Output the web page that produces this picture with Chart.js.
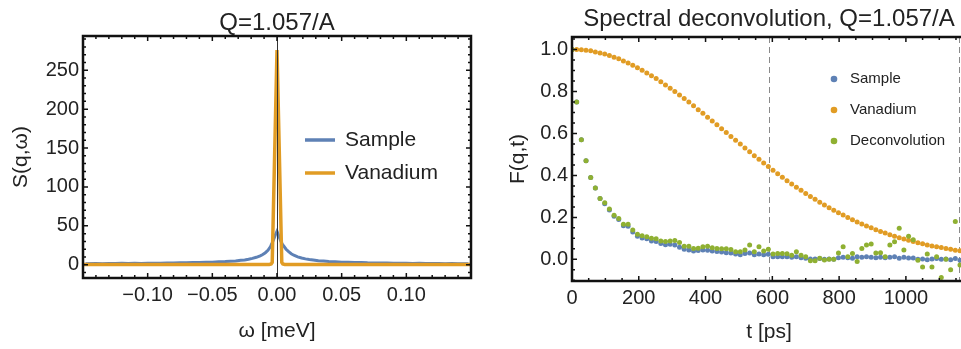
<!DOCTYPE html>
<html>
<head>
<meta charset="utf-8">
<script src="https://cdn.jsdelivr.net/npm/chart.js@4.4.1/dist/chart.umd.min.js"></script>
<style>
    html, body { margin: 0; padding: 0; background: #fff; overflow: hidden; width: 961px; height: 349px; }
    #left { position: absolute; left: 0; top: 0; width: 480px; height: 349px; }
    #right { position: absolute; left: 480px; top: 0; width: 520px; height: 349px; }
</style>
</head>
<body>
<div id="left"><canvas id="spectrum" width="480" height="349"></canvas></div>
<div id="right"><canvas id="fqt" width="520" height="349"></canvas></div>
<script>
// ---- left panel: S(q,w) ----
const omegaSample = [-0.148, -0.14, -0.135, -0.13, -0.125, -0.12, -0.115, -0.11, -0.105, -0.10,
    -0.095, -0.09, -0.085, -0.08, -0.075, -0.07, -0.065, -0.06, -0.055, -0.05,
    -0.045, -0.04, -0.036, -0.032, -0.028, -0.025, -0.022, -0.019, -0.016, -0.013,
    -0.011, -0.009, -0.007, -0.005, -0.004, -0.003, -0.002, -0.001, 0,
    0.001, 0.002, 0.003, 0.004, 0.005, 0.007, 0.009, 0.011, 0.013, 0.016,
    0.019, 0.022, 0.025, 0.028, 0.032, 0.036, 0.04, 0.045, 0.05, 0.055,
    0.06, 0.065, 0.07, 0.075, 0.08, 0.085, 0.09, 0.095, 0.10, 0.105,
    0.11, 0.115, 0.12, 0.125, 0.13, 0.135, 0.14, 0.148];
const sampleS = [1.4, 1.6, 1.3, 1.7, 1.5, 1.8, 1.6, 1.9, 1.7, 2.0,
    2.1, 1.9, 2.3, 2.2, 2.6, 2.5, 2.9, 2.8, 3.3, 3.2,
    3.8, 4.1, 4.6, 5.0, 5.8, 6.2, 7.0, 8.2, 9.6, 11.5,
    13.2, 15.5, 18.6, 23.5, 27, 31, 35, 39.5, 43,
    39, 34.5, 30, 27, 24.5, 20, 16.8, 14.2, 12.3, 10.2,
    8.8, 7.6, 6.7, 6.0, 5.2, 4.7, 4.2, 3.8, 3.4, 3.2,
    2.9, 2.8, 2.5, 2.4, 2.2, 2.2, 2.0, 1.9, 1.9, 1.7,
    1.8, 1.6, 1.5, 1.6, 1.4, 1.5, 1.3, 1.4];
const omegaVan = [-0.15, -0.006, -0.0045, -0.0037, 0, 0.0037, 0.0045, 0.006, 0.15];
const vanadiumS = [0.3, 0.5, 1, 3, 276, 3, 1, 0.5, 0.3];
const omegaTicks = [-0.10, -0.05, 0, 0.05, 0.10];
const sTicks = [0, 50, 100, 150, 200, 250];

// ---- right panel: F(q,t) ----
const tPs = [0, 14, 28, 42, 56, 70, 84, 98, 112, 126, 140, 154, 168, 182, 196, 210, 224, 238, 252, 266,
    280, 294, 308, 322, 336, 350, 364, 378, 392, 406, 420, 434, 448, 462, 476, 490, 504, 518, 532, 546,
    560, 574, 588, 602, 616, 630, 644, 658, 672, 686, 700, 714, 728, 742, 756, 770, 784, 798, 812, 826,
    840, 854, 868, 882, 896, 910, 924, 938, 952, 966, 980, 994, 1008, 1022, 1036, 1050, 1064, 1078, 1092, 1106,
    1120, 1134, 1148, 1162, 1176];
const sampleF = [1.0, 0.75, 0.57, 0.47, 0.39, 0.34, 0.29, 0.265, 0.235, 0.205,
    0.19, 0.16, 0.158, 0.13, 0.11, 0.102, 0.098, 0.088, 0.085, 0.075,
    0.07, 0.072, 0.068, 0.058, 0.048, 0.045, 0.04, 0.042, 0.045, 0.043,
    0.04, 0.037, 0.035, 0.032, 0.03, 0.026, 0.022, 0.028, 0.03, 0.022,
    0.025, 0.022, 0.024, 0.012, 0.012, 0.013, 0.013, 0.01, 0.012, 0.008,
    0.005, 0.002, 0.002, 0.004, 0.0, 0.002, 0.0, 0.008, 0.01, 0.008,
    0.005, 0.012, 0.01, 0.012, 0.01, 0.008, 0.01, 0.008, 0.01, 0.012,
    0.005, 0.01, 0.006, 0.006, 0.0, 0.002, -0.002, 0.002, 0.004, 0.0,
    0.002, -0.002, 0.004, -0.004, 0.0];
const vanadiumF = [1.000, 1.000, 0.998, 0.996, 0.993, 0.988, 0.983, 0.978, 0.971, 0.963,
    0.955, 0.945, 0.935, 0.925, 0.913, 0.901, 0.888, 0.875, 0.861, 0.846,
    0.831, 0.815, 0.799, 0.783, 0.766, 0.749, 0.731, 0.713, 0.696, 0.677,
    0.659, 0.641, 0.622, 0.604, 0.585, 0.567, 0.549, 0.530, 0.512, 0.494,
    0.477, 0.459, 0.442, 0.425, 0.408, 0.391, 0.375, 0.359, 0.344, 0.329,
    0.314, 0.300, 0.286, 0.272, 0.259, 0.246, 0.234, 0.222, 0.211, 0.199,
    0.189, 0.178, 0.169, 0.159, 0.150, 0.141, 0.133, 0.125, 0.117, 0.110,
    0.103, 0.097, 0.091, 0.085, 0.079, 0.074, 0.069, 0.064, 0.060, 0.056,
    0.052, 0.048, 0.044, 0.041, 0.038];
const deconvF = [1.0, 0.75, 0.57, 0.47, 0.39, 0.34, 0.29, 0.27, 0.24, 0.21,
    0.195, 0.167, 0.167, 0.14, 0.12, 0.112, 0.108, 0.1, 0.098, 0.088,
    0.085, 0.088, 0.09, 0.08, 0.062, 0.063, 0.052, 0.053, 0.06, 0.062,
    0.055, 0.052, 0.05, 0.05, 0.047, 0.036, 0.036, 0.045, 0.068, 0.036,
    0.06, 0.04, 0.048, 0.025, 0.028, 0.028, 0.027, 0.02, 0.036, 0.02,
    0.012, -0.007, -0.006, 0.005, -0.003, 0.0, 0.0, 0.03, 0.06, 0.013,
    0.028, -0.01, 0.052, 0.068, 0.073, 0.03, 0.032, 0.013, 0.068, 0.084,
    0.148, 0.045, 0.11, 0.094, -0.004, -0.036, 0.025, -0.036, 0.013, -0.086,
    0.0, -0.05, 0.18, -0.027, 0.02];
const markerTimes = [591, 1160];
const tTicks = [0, 200, 400, 600, 800, 1000];
const fTicks = [0, 0.2, 0.4, 0.6, 0.8, 1.0];

const BLUE = '#5E81B5', ORANGE = '#E19C24', GREEN = '#8FB032';
const FAMILY = "'Liberation Sans', Arial, sans-serif";
const TEXT = '#222';

function pts(xs, ys) {
    return xs.map((x, i) => ({x: x, y: ys[i]}));
}

// Moldura estilo Mathematica com ticks para dentro nos 4 lados
const frameTicks = {
    id: 'frameTicks',
    beforeDatasetsDraw(chart, args, opts) {
        drawVLines(chart, (opts.vLines || []).filter(v => !v.front));
    },
    afterDatasetsDraw(chart, args, opts) {
        const {ctx, chartArea: a, scales: {x, y}} = chart;
        drawVLines(chart, (opts.vLines || []).filter(v => v.front));
        ctx.save();
        ctx.strokeStyle = '#111';
        ctx.lineWidth = 1.5;
        ctx.beginPath();
        const mark = (scale, major, minor, horizontal) => {
            const i0 = Math.ceil(scale.min / minor - 1e-6);
            for (let i = i0; i * minor <= scale.max + 1e-9; i++) {
                const v = i * minor;
                const r = v / major;
                const len = Math.abs(r - Math.round(r)) < 1e-6 ? 5 : 3;
                const p = scale.getPixelForValue(v);
                if (horizontal) {
                    ctx.moveTo(p, a.bottom); ctx.lineTo(p, a.bottom - len);
                    ctx.moveTo(p, a.top); ctx.lineTo(p, a.top + len);
                } else {
                    ctx.moveTo(a.left, p); ctx.lineTo(a.left + len, p);
                    ctx.moveTo(a.right, p); ctx.lineTo(a.right - len, p);
                }
            }
        };
        mark(x, opts.xMajor, opts.xMinor, true);
        mark(y, opts.yMajor, opts.yMinor, false);
        ctx.stroke();
        ctx.lineWidth = 2.5;
        ctx.strokeRect(a.left, a.top, a.right - a.left, a.bottom - a.top);
        ctx.restore();
    },
    afterDraw(chart, args, opts) {
        const {ctx, chartArea: a} = chart;
        ctx.save();
        ctx.font = opts.titleFont;
        ctx.fillStyle = TEXT;
        ctx.textAlign = 'center';
        ctx.textBaseline = 'middle';
        ctx.fillText(opts.title, (a.left + a.right) / 2, opts.titleY);
        // legenda dentro do gráfico
        const lg = opts.legend;
        ctx.font = lg.font;
        ctx.textAlign = 'left';
        chart.data.datasets.forEach((ds, i) => {
            const yy = lg.y + i * lg.gap;
            if (lg.symbol === 'line') {
                ctx.strokeStyle = ds.borderColor;
                ctx.lineWidth = 3.5;
                ctx.beginPath();
                ctx.moveTo(lg.x, yy); ctx.lineTo(lg.x + lg.len, yy);
                ctx.stroke();
            } else {
                ctx.fillStyle = ds.backgroundColor;
                ctx.beginPath();
                ctx.arc(lg.x, yy, 3.3, 0, Math.PI * 2);
                ctx.fill();
            }
            ctx.fillStyle = TEXT;
            ctx.fillText(ds.label, lg.textX, yy);
        });
        ctx.restore();
    }
};

function drawVLines(chart, lines) {
    const {ctx, chartArea: a, scales: {x}} = chart;
    ctx.save();
    lines.forEach(v => {
        const px = Math.round(x.getPixelForValue(v.value)) + 0.5;
        ctx.strokeStyle = v.color;
        ctx.lineWidth = 1;
        ctx.setLineDash(v.dash || []);
        ctx.beginPath();
        ctx.moveTo(px, a.top);
        ctx.lineTo(px, a.bottom);
        ctx.stroke();
    });
    ctx.restore();
}

function axis(opts) {
    return {
        type: 'linear',
        min: opts.min,
        max: opts.max,
        afterBuildTicks: s => { s.ticks = opts.ticks.map(v => ({value: v})); },
        afterFit: opts.fit,
        grid: {display: false, drawTicks: false},
        border: {display: false},
        ticks: {
            padding: opts.padding,
            autoSkip: false,
            maxRotation: 0,
            color: TEXT,
            font: {family: FAMILY, size: 20},
            callback: opts.format
        },
        title: {
            display: true,
            text: opts.title,
            color: TEXT,
            font: {family: FAMILY, size: 21},
            padding: opts.titlePadding
        }
    };
}

const fmt = d => v => v.toFixed(d).replace('-', '\u2212');

// Gráfico da esquerda
new Chart(document.getElementById('spectrum'), {
    type: 'scatter',
    data: {
        datasets: [{
            label: 'Sample',
            data: pts(omegaSample, sampleS),
            showLine: true,
            borderColor: BLUE,
            backgroundColor: BLUE,
            borderWidth: 3,
            pointRadius: 0,
            order: 1
        }, {
            label: 'Vanadium',
            data: pts(omegaVan, vanadiumS),
            showLine: true,
            borderColor: ORANGE,
            backgroundColor: ORANGE,
            borderWidth: 3.5,
            pointRadius: 0,
            order: 0
        }]
    },
    options: {
        responsive: false,
        animation: false,
        events: [],
        layout: {padding: {top: 36, right: 9, left: 0, bottom: 0}},
        scales: {
            x: axis({min: -0.15, max: 0.15, ticks: omegaTicks, padding: 5, format: fmt(2),
                title: '\u03c9 [meV]', titlePadding: {top: 0, bottom: 5},
                fit: s => { s.height = 71; }}),
            y: axis({min: -17, max: 294, ticks: sTicks, padding: 4, format: v => String(v),
                title: 'S(q,\u03c9)', titlePadding: {top: 9, bottom: 0},
                fit: s => { s.width = 83; }})
        },
        plugins: {
            legend: {display: false},
            tooltip: {enabled: false},
            frameTicks: {
                xMajor: 0.05, xMinor: 0.01, yMajor: 50, yMinor: 10,
                vLines: [{value: 0, color: '#333', front: true}],
                title: 'Q=1.057/A', titleY: 23, titleFont: '24px ' + FAMILY,
                legend: {symbol: 'line', x: 305, len: 30, textX: 345, y: 140, gap: 33, font: '21px ' + FAMILY}
            }
        }
    },
    plugins: [frameTicks]
});

// Gráfico da direita
new Chart(document.getElementById('fqt'), {
    type: 'scatter',
    data: {
        datasets: [
            {label: 'Sample', data: pts(tPs, sampleF), backgroundColor: BLUE, borderColor: BLUE, order: 2},
            {label: 'Vanadium', data: pts(tPs, vanadiumF), backgroundColor: ORANGE, borderColor: ORANGE, order: 1},
            {label: 'Deconvolution', data: pts(tPs, deconvF), backgroundColor: GREEN, borderColor: GREEN, order: 0}
        ]
    },
    options: {
        responsive: false,
        animation: false,
        events: [],
        elements: {point: {radius: 2.5, borderWidth: 0}},
        layout: {padding: {top: 37, right: 34, left: 0, bottom: 0}},
        scales: {
            x: axis({min: 0, max: 1180, ticks: tTicks, padding: 5, format: v => String(v),
                title: 't [ps]', titlePadding: {top: 0, bottom: 4},
                fit: s => { s.height = 68; }}),
            y: axis({min: -0.103, max: 1.059, ticks: fTicks, padding: 4, format: fmt(1),
                title: 'F(q,t)', titlePadding: {top: 26, bottom: 0},
                fit: s => { s.width = 92; }})
        },
        plugins: {
            legend: {display: false},
            tooltip: {enabled: false},
            frameTicks: {
                xMajor: 200, xMinor: 50, yMajor: 0.2, yMinor: 0.05,
                vLines: markerTimes.map(t => ({value: t, color: '#8a8a8a', dash: [6, 4]})),
                title: 'Spectral deconvolution, Q=1.057/A', titleY: 19, titleFont: '24px ' + FAMILY,
                legend: {symbol: 'dot', x: 354, textX: 370, y: 79, gap: 31, font: '15px ' + FAMILY}
            }
        }
    },
    plugins: [frameTicks]
});
</script>
</body>
</html>
